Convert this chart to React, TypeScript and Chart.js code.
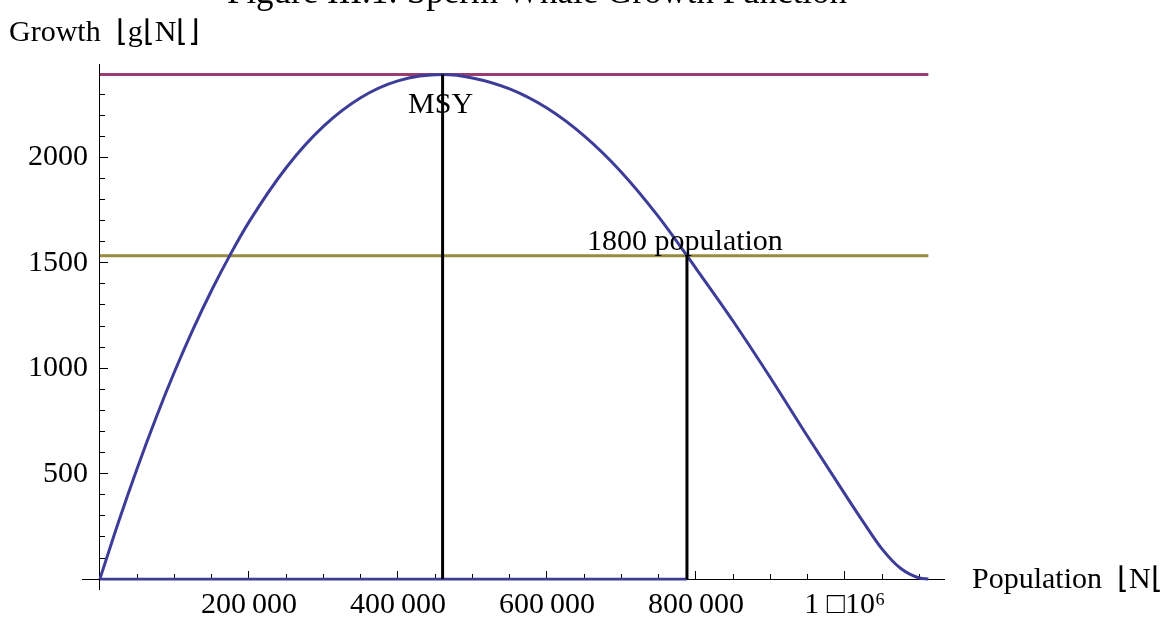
import React, { useEffect, useRef } from 'react';
import { Chart, registerables } from 'chart.js';

Chart.register(...registerables);

// ---- data ----
const CURVE_N = [0, 25000, 50000, 75000, 100000, 125000, 150000, 175000, 200000, 250000, 300000, 350000, 400000, 460000, 500000, 550000, 600000, 650000, 700000, 750000, 800000, 850000, 900000, 950000, 1000000, 1025000, 1050000, 1075000, 1100000, 1112000];
const CURVE_G = [0, 271, 525, 762, 982, 1184, 1370, 1539, 1693, 1951, 2147, 2283, 2363, 2393, 2377, 2325, 2234, 2102, 1930, 1718, 1474, 1223, 955, 676, 403, 269, 142, 50, 5, 0];

const MSY_N = 460000;
const MSY_G = 2393;
const POP1800_N = 788000;
const POP1800_G = 1533;
const CARRYING_K = 1112000;

const X_MAJOR_TICKS = [200000, 400000, 600000, 800000, 1000000];
const X_TICK_LABELS = ['200\u2009000', '400\u2009000', '600\u2009000', '800\u2009000', '1 \u25A110\u2076'];
const Y_MAJOR_TICKS = [500, 1000, 1500, 2000];
const Y_TICK_LABELS = ['500', '1000', '1500', '2000'];
const X_MINOR_STEP = 50000;
const X_MINOR_LAST = 1100000;
const Y_MINOR_STEP = 100;
const Y_MINOR_LAST = 2400;

const X_MIN = -24000;
const X_MAX = 1133000;
const Y_MIN = -47;
const Y_MAX = 2443;
const Y_LABEL_AT = -16000;

const TITLE = 'Figure III.1: Sperm Whale Growth Function';
const Y_TITLE = 'Growth  \u230Ag\u230AN\u230A\u230B';
const X_TITLE = 'Population  \u230AN\u230A';
const MSY_LABEL = 'MSY';
const POP_LABEL = '1800 population';

const FONT_FAMILY = "'Liberation Serif', 'Times New Roman', serif";
const BLUE = '#3d3d99';
const MAROON = '#993d71';
const OLIVE = '#998b3d';

function steps(step: number, last: number) {
  const out: number[] = [];
  for (let v = step; v <= last + 1e-9; v += step) out.push(v);
  return out;
}

const textPlugin = {
  id: 'texts',
  afterDraw(chart: any) {
    const { ctx } = chart;
    const x = chart.scales.x;
    const y = chart.scales.y;
    ctx.save();
    ctx.fillStyle = '#000';
    ctx.textBaseline = 'alphabetic';
    ctx.textAlign = 'center';
    ctx.font = `35px ${FONT_FAMILY}`;
    ctx.fillText(TITLE, 537, 3);
    ctx.font = `30px ${FONT_FAMILY}`;
    ctx.textAlign = 'left';
    ctx.fillText(Y_TITLE, 9, 41);
    ctx.fillText(X_TITLE, 972, 588);
    ctx.textAlign = 'center';
    ctx.fillText(MSY_LABEL, x.getPixelForValue(MSY_N) - 2, y.getPixelForValue(MSY_G) + 38);
    ctx.fillText(POP_LABEL, x.getPixelForValue(POP1800_N) - 2, y.getPixelForValue(POP1800_G) - 6);
    ctx.restore();
  },
};

export default function App() {
  const ref = useRef<HTMLCanvasElement | null>(null);

  useEffect(() => {
    if (!ref.current) return;
    const font = { family: FONT_FAMILY, size: 30 };
    const curve = CURVE_N.map((n, i) => ({ x: n, y: CURVE_G[i] }));
    const chart = new Chart(ref.current, {
      type: 'line',
      data: {
        datasets: [
          {
            data: [{ x: MSY_N, y: 0 }, { x: MSY_N, y: MSY_G }],
            borderColor: '#000', borderWidth: 3, pointRadius: 0, order: 0,
          },
          {
            data: [{ x: POP1800_N, y: 0 }, { x: POP1800_N, y: POP1800_G }],
            borderColor: '#000', borderWidth: 3, pointRadius: 0, order: 0,
          },
          {
            data: curve,
            borderColor: BLUE, borderWidth: 3, pointRadius: 0,
            cubicInterpolationMode: 'monotone', order: 1,
          },
          {
            data: [{ x: 0, y: 0 }, { x: POP1800_N, y: 0 }],
            borderColor: BLUE, borderWidth: 2.6, pointRadius: 0, order: 1,
          },
          {
            data: [{ x: 0, y: POP1800_G }, { x: CARRYING_K, y: POP1800_G }],
            borderColor: OLIVE, borderWidth: 3, pointRadius: 0, order: 2,
          },
          {
            data: [{ x: 0, y: MSY_G }, { x: CARRYING_K, y: MSY_G }],
            borderColor: MAROON, borderWidth: 3, pointRadius: 0, order: 3,
          },
        ],
      },
      options: {
        animation: false,
        responsive: false,
        devicePixelRatio: 1,
        layout: { padding: { left: 82, right: 229, top: 64, bottom: 44 } },
        plugins: { legend: { display: false }, title: { display: false }, tooltip: { enabled: false } },
        events: [],
        scales: {
          x: {
            type: 'linear', min: X_MIN, max: X_MAX, position: { y: 0 },
            afterBuildTicks: (s: any) => { s.ticks = X_MAJOR_TICKS.map((v) => ({ value: v })); },
            ticks: {
              font, color: '#000', padding: 17, maxRotation: 0, autoSkip: false,
              callback: (v: any) => { const i = X_MAJOR_TICKS.indexOf(Number(v)); return i >= 0 ? X_TICK_LABELS[i] : ''; },
            },
            grid: { drawOnChartArea: false, drawTicks: true, tickLength: -9, tickColor: '#000', tickWidth: 1 },
            border: { display: true, color: '#000', width: 1 },
          },
          xMinor: {
            type: 'linear', axis: 'x', min: X_MIN, max: X_MAX, position: { y: 0 },
            afterBuildTicks: (s: any) => { s.ticks = steps(X_MINOR_STEP, X_MINOR_LAST).map((v) => ({ value: v })); },
            ticks: { display: false },
            grid: { drawOnChartArea: false, drawTicks: true, tickLength: -5, tickColor: '#000', tickWidth: 1 },
            border: { display: false },
          },
          y: {
            type: 'linear', min: Y_MIN, max: Y_MAX, position: { x: 0 },
            afterBuildTicks: (s: any) => { s.ticks = Y_MAJOR_TICKS.map((v) => ({ value: v })); },
            ticks: { display: false },
            grid: { drawOnChartArea: false, drawTicks: true, tickLength: -9, tickColor: '#000', tickWidth: 1 },
            border: { display: true, color: '#000', width: 1 },
          },
          yMinor: {
            type: 'linear', axis: 'y', min: Y_MIN, max: Y_MAX, position: { x: 0 },
            afterBuildTicks: (s: any) => { s.ticks = steps(Y_MINOR_STEP, Y_MINOR_LAST).map((v) => ({ value: v })); },
            ticks: { display: false },
            grid: { drawOnChartArea: false, drawTicks: true, tickLength: -5, tickColor: '#000', tickWidth: 1 },
            border: { display: false },
          },
          yLabels: {
            type: 'linear', axis: 'y', min: Y_MIN, max: Y_MAX, position: { x: Y_LABEL_AT },
            afterBuildTicks: (s: any) => { s.ticks = Y_MAJOR_TICKS.map((v) => ({ value: v })); },
            ticks: {
              font, color: '#000', padding: 0, autoSkip: false,
              callback: (v: any) => { const i = Y_MAJOR_TICKS.indexOf(Number(v)); return i >= 0 ? Y_TICK_LABELS[i] : ''; },
            },
            grid: { display: false },
            border: { display: false },
          },
        },
      } as any,
      plugins: [textPlugin],
    });
    return () => chart.destroy();
  }, []);

  return (
    <div style={{ position: 'fixed', left: 0, top: 0, width: 1173, height: 633, background: '#fff' }}>
      <canvas ref={ref} width={1173} height={633} style={{ display: 'block' }} />
    </div>
  );
}
